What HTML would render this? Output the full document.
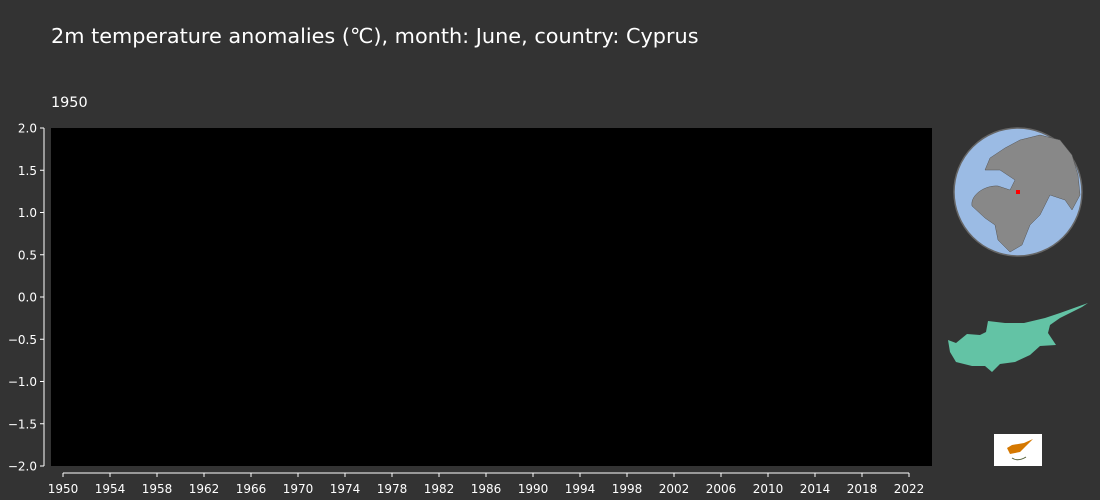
<!DOCTYPE html>
<html><head><meta charset="utf-8"><style>
html,body{margin:0;background:#333;width:1100px;height:500px;overflow:hidden;font-family:"Liberation Sans","DejaVu Sans",sans-serif}
svg{display:block}
</style></head><body>
<svg id="chart" width="1100" height="500" xmlns="http://www.w3.org/2000/svg">
<rect width="1100" height="500" fill="#333333"/>
<text x="51" y="43" fill="#fff" font-size="20.8" font-family="DejaVu Sans, sans-serif">2m temperature anomalies (℃), month: June, country: Cyprus</text>
<text x="51" y="107" fill="#fff" font-size="14.4" font-family="DejaVu Sans, sans-serif">1950</text>
<rect x="51" y="128" width="881" height="338" fill="#000"/>
<g id="axes"></g>
<g id="marks"></g>
<g>
<circle cx="1018" cy="192" r="64" fill="#9bbbe4" stroke="#666" stroke-width="1.5"/>
<path d="M972,206 C970,195 985,185 998,186 L1010,190 L1015,180 L1000,170 L985,170 L990,158 L1005,148 L1020,140 L1040,135 L1060,140 L1072,155 L1078,175 L1080,195 L1072,210 L1065,200 L1050,195 L1045,205 L1040,215 L1030,225 L1022,245 L1010,252 L998,240 L995,225 L985,218 Z" fill="#888" stroke="#555" stroke-width="0.5"/>
<rect x="1016" y="190" width="4" height="4" fill="#f00"/>
</g>
<path d="M948,340 L956,343 L967,334 L980,335 L986,332 L988,321 L1005,323 L1024,323 L1045,318 L1060,313 L1088,303 L1082,307 L1060,318 L1050,325 L1048,333 L1056,345 L1040,346 L1030,355 L1015,362 L1000,364 L992,372 L985,366 L972,366 L956,362 L950,352 Z" fill="#63c3a5"/>
<g>
<rect x="994" y="434" width="48" height="32" fill="#fff"/>
<path d="M1007,448 L1012,445 L1024,443 L1033,439 L1026,446 L1020,452 L1010,454 Z" fill="#d57800"/>
<path d="M1012,458 Q1018,462 1026,457" stroke="#4e5b31" stroke-width="1" fill="none"/>
</g>
</svg>
<script>
const yearTicks=[1950,1954,1958,1962,1966,1970,1974,1978,1982,1986,1990,1994,1998,2002,2006,2010,2014,2018,2022];
const yTicks=[2.0,1.5,1.0,0.5,0.0,-0.5,-1.0,-1.5,-2.0];
const seriesYears=[];
const seriesValues=[];
const NS="http://www.w3.org/2000/svg";
const xS=y=>63+(y-1950)*(846/72);
const yS=v=>128+(2-v)*84.5;
const axes=document.getElementById('axes');
function mk(t,a){const e=document.createElementNS(NS,t);for(const k in a)e.setAttribute(k,a[k]);return e;}
let l=mk('line',{x1:44,y1:128,x2:44,y2:466,stroke:'#fff','stroke-width':1});


axes.appendChild(l);
l=mk('line',{x1:63,y1:473,x2:909,y2:473,stroke:'#fff','stroke-width':1});


axes.appendChild(l);
yTicks.forEach(v=>{
 const y=yS(v);
 const t=mk('line',{x1:40,y1:y,x2:44,y2:y,stroke:'#fff'});
 
 
 axes.appendChild(t);
 const tx=mk('text',{x:37,y:y+4.5,fill:'#fff','font-size':12,'text-anchor':'end','font-family':'DejaVu Sans, sans-serif'});
 tx.textContent=(v<0?'\u2212':'')+Math.abs(v).toFixed(1);
 
 
 axes.appendChild(tx);
});
yearTicks.forEach(yr=>{
 const x=xS(yr);
 const t=mk('line',{x1:x,y1:473,x2:x,y2:477,stroke:'#fff'});
 
 
 axes.appendChild(t);
 const tx=mk('text',{x:x,y:493,fill:'#fff','font-size':12,'text-anchor':'middle','font-family':'DejaVu Sans, sans-serif'});
 tx.textContent=yr;
 
 
 axes.appendChild(tx);
});
const marks=document.getElementById('marks');
seriesValues.forEach((v,i)=>{
 const x=xS(seriesYears[i]);
 const b=mk('rect',{x:x-4,y:Math.min(yS(v),yS(0)),width:8,height:Math.abs(yS(v)-yS(0)),fill:v>=0?'#d6604d':'#4393c3'});
 
 
 marks.appendChild(b);
});
</script>
</body></html>
